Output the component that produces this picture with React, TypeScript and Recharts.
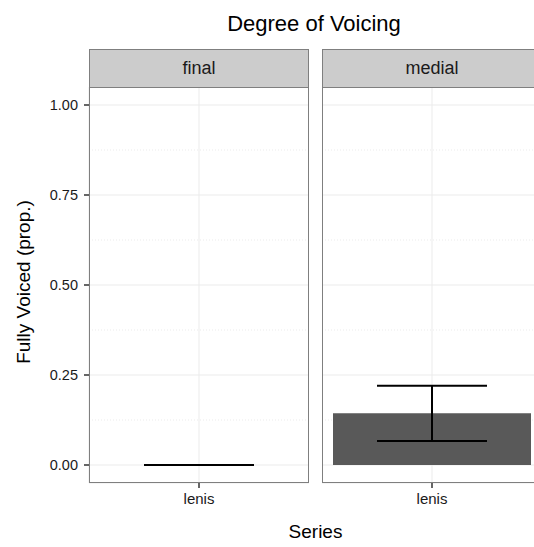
import { ComposedChart, Bar, Scatter, ErrorBar, XAxis, YAxis, CartesianGrid } from "recharts";

const facets = ["final", "medial"];
const categories = ["lenis"];
const means = [0, 0.144];
const lowerErr = [0, 0.077];
const upperErr = [0, 0.076];
const yTicks = [0, 0.25, 0.5, 0.75, 1];
const minorTicks = [0.125, 0.375, 0.625, 0.875];

const FONT = '"Liberation Sans", Arial, sans-serif';
const PANEL_TOP = 87;
const PANEL_H = 396;
const PANEL_W = 220;
const panelLefts = [89, 322];

function Panel({ idx }: { idx: number }) {
  const data = categories.map((c) => ({
    name: c,
    value: means[idx],
    err: [lowerErr[idx], upperErr[idx]],
  }));
  const showY = idx === 0;
  const yw = showY ? 89 : 0;
  const left = panelLefts[idx] - yw;
  return (
    <div style={{ position: "absolute", left, top: 0 }}>
      <ComposedChart
        width={yw + PANEL_W}
        height={547}
        data={data}
        margin={{ top: PANEL_TOP, right: 0, bottom: 547 - PANEL_TOP - PANEL_H - 30, left: 0 }}
        barCategoryGap="5%"
      >
        <CartesianGrid stroke="#ebebeb" strokeWidth={1} />
        <CartesianGrid
          stroke="#ebebeb"
          strokeDasharray="1 2"
          vertical={false}
          horizontalValues={minorTicks}
        />
        <XAxis
          dataKey="name"
          axisLine={false}
          tickLine={{ stroke: "#333333", strokeWidth: 1.5 }}
          tickSize={5}
          tickMargin={5}
          height={30}
          tick={{ fontSize: 15, fill: "#1a1a1a", fontFamily: FONT }}
        />
        <YAxis
          hide={!showY}
          width={yw}
          domain={[-0.05, 1.05]}
          ticks={yTicks}
          allowDataOverflow
          axisLine={false}
          tickLine={{ stroke: "#333333", strokeWidth: 1.5 }}
          tickSize={5}
          tickMargin={6}
          tickFormatter={(v: number) => v.toFixed(2)}
          tick={{ fontSize: 14.5, fill: "#1a1a1a", fontFamily: FONT }}
        />
        <Bar dataKey="value" fill="#595959" isAnimationActive={false} />
        <Scatter dataKey="value" shape={() => <g />} isAnimationActive={false}>
          <ErrorBar
            dataKey="err"
            direction="y"
            width={55}
            stroke="#000000"
            strokeWidth={2}
            isAnimationActive={false}
          />
        </Scatter>
      </ComposedChart>
      <div
        style={{
          position: "absolute",
          left: yw,
          top: PANEL_TOP,
          width: PANEL_W,
          height: PANEL_H,
          boxSizing: "border-box",
          border: "1.2px solid #7f7f7f",
          pointerEvents: "none",
        }}
      />
      <div
        style={{
          position: "absolute",
          left: yw,
          top: 49,
          width: PANEL_W,
          height: 38,
          boxSizing: "border-box",
          border: "1.2px solid #7f7f7f",
          borderBottom: "none",
          background: "#cccccc",
          fontFamily: FONT,
          fontSize: 18,
          color: "#1a1a1a",
          display: "flex",
          alignItems: "center",
          justifyContent: "center",
        }}
      >
        {facets[idx]}
      </div>
    </div>
  );
}

export default function App() {
  return (
    <div
      style={{
        position: "absolute",
        left: 0,
        top: 0,
        width: 534,
        height: 547,
        overflow: "hidden",
        background: "#ffffff",
        fontFamily: FONT,
      }}
    >
      <Panel idx={0} />
      <Panel idx={1} />
      <div
        style={{
          position: "absolute",
          left: 0,
          width: 628,
          top: 11,
          textAlign: "center",
          fontSize: 22,
          lineHeight: "26px",
          color: "#000",
        }}
      >
        Degree of Voicing
      </div>
      <div
        style={{
          position: "absolute",
          left: 0,
          width: 631,
          top: 521,
          textAlign: "center",
          fontSize: 19,
          lineHeight: "22px",
          color: "#000",
        }}
      >
        Series
      </div>
      <div
        style={{
          position: "absolute",
          left: 24,
          top: 282,
          transform: "translate(-50%, -50%) rotate(-90deg)",
          whiteSpace: "nowrap",
          fontSize: 19,
          lineHeight: "22px",
          color: "#000",
        }}
      >
        Fully Voiced (prop.)
      </div>
    </div>
  );
}
